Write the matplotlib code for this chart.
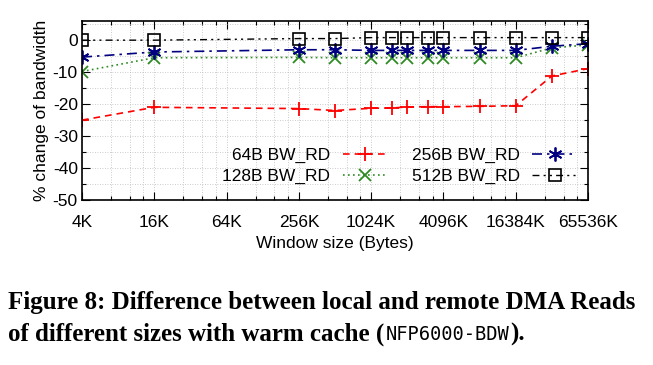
import matplotlib
matplotlib.use("Agg")
import matplotlib.pyplot as plt
from matplotlib.ticker import FixedLocator, NullFormatter, MultipleLocator

# window sizes in KB
window_k = [4, 16, 256, 512, 1024, 1536, 2048, 3072, 4096, 8192, 16384, 32768, 65536]

bw_64 = [-25.0, -21.0, -21.4, -22.0, -21.3, -21.2, -20.9, -20.8, -20.8, -20.7, -20.5, -11.2, -8.9]
bw_128 = [-9.8, -5.5, -5.4, -5.5, -5.5, -5.5, -5.5, -5.5, -5.5, -5.5, -5.5, -2.4, -1.5]
bw_256 = [-5.3, -3.7, -3.0, -3.0, -3.2, -3.2, -3.2, -3.2, -3.2, -3.2, -3.2, -1.9, -1.1]
bw_512 = [0.0, 0.0, 0.5, 0.5, 0.8, 0.8, 0.8, 0.8, 0.8, 0.8, 0.8, 0.8, 0.8]

major_k = [4, 16, 64, 256, 1024, 4096, 16384, 65536]
major_labels = ["4K", "16K", "64K", "256K", "1024K", "4096K", "16384K", "65536K"]

plt.rcParams["font.family"] = ["Liberation Sans", "DejaVu Sans"]
plt.rcParams["axes.unicode_minus"] = False

fig = plt.figure(figsize=(6.53, 3.65), dpi=100)
ax = fig.add_axes([0.1256, 0.452, 0.7749, 0.4905])

ax.plot(window_k, bw_64, color="#ff0000", linestyle=(0, (4, 3)), linewidth=1.2,
        marker="+", markersize=10, markeredgewidth=1.3, label="64B BW_RD")
ax.plot(window_k, bw_128, color="#2e8b22", linestyle=(0, (1, 2)), linewidth=1.2,
        marker="x", markersize=8, markeredgewidth=1.3, label="128B BW_RD")
ax.plot(window_k, bw_256, color="#000080", linestyle=(0, (6, 3, 1.5, 3)), linewidth=1.2,
        marker=(6, 2, 0), markersize=10, markeredgewidth=1.3, label="256B BW_RD")
ax.plot(window_k, bw_512, color="black", linestyle=(0, (5, 3, 1.5, 3, 1.5, 3)), linewidth=1.0,
        marker="s", markersize=8, markerfacecolor="none", markeredgewidth=1.2,
        label="512B BW_RD")

ax.set_xscale("log", base=2)
ax.set_xlim(4, 65536)
ax.set_ylim(-50, 6)

minor_k = []
for b in major_k[:-1]:
    for f in (1.75, 2.5, 3.25):
        minor_k.append(b * f)
ax.xaxis.set_major_locator(FixedLocator(major_k))
ax.set_xticklabels(major_labels)
ax.xaxis.set_minor_locator(FixedLocator(minor_k))
ax.xaxis.set_minor_formatter(NullFormatter())
ax.yaxis.set_major_locator(MultipleLocator(10))
ax.yaxis.set_minor_locator(MultipleLocator(5))

ax.tick_params(which="both", direction="in", top=True, right=True, labelsize=12.5)
ax.tick_params(axis="x", pad=11)
ax.tick_params(axis="y", pad=3)
ax.tick_params(which="major", length=6, width=0.8)
ax.tick_params(which="minor", length=3, width=0.8)
ax.grid(True, which="both", color="#bbbbbb", linestyle=(0, (1, 2)), linewidth=0.6)
for s in ax.spines.values():
    s.set_linewidth(1.2)

ax.set_xlabel("Window size (Bytes)", fontsize=12.5, labelpad=4)
ax.set_ylabel("% change of bandwidth", fontsize=12.5, labelpad=3)

ax.legend(ncol=2, markerfirst=False, frameon=False, fontsize=12.5,
          loc="center right", bbox_to_anchor=(1.01, 0.19), handlelength=2.6,
          columnspacing=1.4, labelspacing=0.3, handletextpad=0.7)

# caption: bold serif with a monospace part
cap_size = 18
fig.text(0.012, 0.153, "Figure 8: Difference between local and remote DMA Reads",
         fontsize=cap_size, fontweight="bold", family="Liberation Serif", va="baseline")
t1 = fig.text(0.012, 0.068, "of different sizes with warm cache (",
              fontsize=cap_size, fontweight="bold", family="Liberation Serif", va="baseline")
renderer = fig.canvas.get_renderer()
bb = t1.get_window_extent(renderer).transformed(fig.transFigure.inverted())
t2 = fig.text(bb.x1 + 0.002, 0.068, "NFP6000-BDW", fontsize=13.5,
              family="DejaVu Sans Mono", va="baseline")
bb2 = t2.get_window_extent(renderer).transformed(fig.transFigure.inverted())
fig.text(bb2.x1 + 0.002, 0.068, ").", fontsize=cap_size, fontweight="bold",
         family="Liberation Serif", va="baseline")

fig.savefig("out.png", dpi=100)
